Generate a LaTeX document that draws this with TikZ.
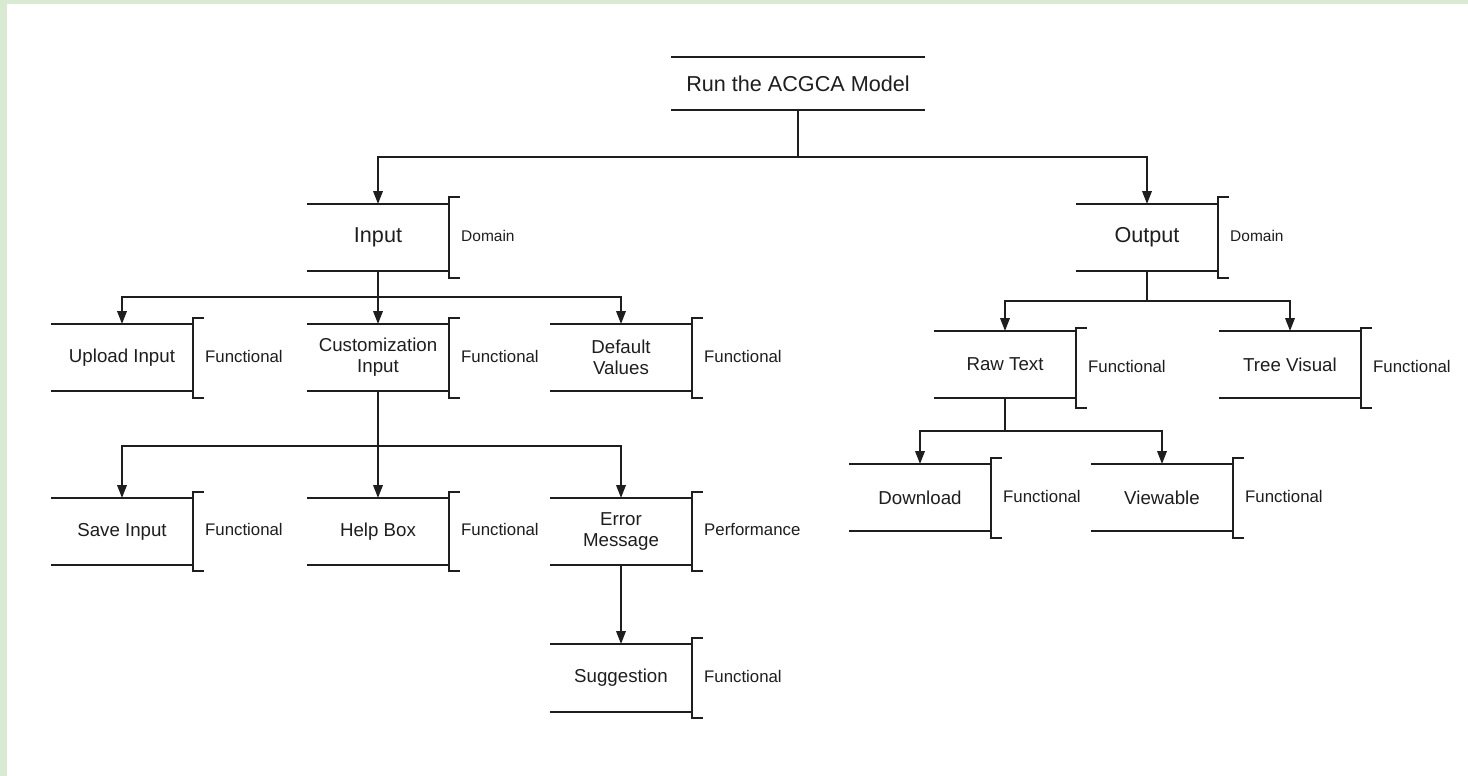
\documentclass[tikz,border=0pt]{standalone}
\usepackage{fontspec}
\setmainfont{Liberation Sans}
\usetikzlibrary{arrows.meta}
\definecolor{bordergreen}{HTML}{D9EAD3}
\definecolor{ink}{HTML}{1E1E1E}
\newcommand{\fntA}{\fontsize{21.6}{24}\selectfont}
\newcommand{\fntB}{\fontsize{18.7}{21}\selectfont}
\newcommand{\fntL}{\fontsize{16.8}{19}\selectfont}
\newcommand{\fntD}{\fontsize{15.5}{18}\selectfont}
\tikzset{
  ln/.style={draw=ink, line width=2pt, line join=miter},
  arr/.style={ln, -{Triangle[length=13pt,width=9.5pt]}},
  boxnode/.style={inner sep=0pt, outer sep=0pt, align=center, text=ink, font=\fntB},
  lbl/.style={inner sep=0pt, anchor=west, text=ink, font=\fntL},
}
\newcommand{\tbox}[9]{%
  \node[boxnode, minimum width={#3-#2}, minimum height={#5-#4}] (#1) at ({(#2+#3)/2},{(#4+#5)/2}) {#6};
  \draw[ln] (#1.north west) -- (#1.north east) (#1.south west) -- (#1.south east);
  \draw[ln] (#3+11,#7) -- (#3,#7) -- (#3,#8) -- (#3+11,#8);
  \node[lbl] (#1-l) at (#3+12,{(#7+#8)/2-2}) {#9};
}
\begin{document}
\begin{tikzpicture}[x=1pt,y=-1pt]
\fill[bordergreen] (0,0) rectangle (1468,776);
\fill[white] (7,4) rectangle (1468,776);
\useasboundingbox (0,0) rectangle (1468,776);

% root
\node[boxnode, font=\fntA, minimum width=254, minimum height=53] (root) at (798,83.5) {Run the ACGCA Model};
\draw[ln] (root.north west) -- (root.north east) (root.south west) -- (root.south east);

\tbox{input}{307}{449}{204}{271}{\fntA Input}{197}{278}{\fntD Domain}
\tbox{output}{1076}{1218}{204}{271}{\fntA Output}{197}{278}{\fntD Domain}

\tbox{upload}{51}{193}{324}{391}{Upload Input}{318}{398}{Functional}
\tbox{custom}{307}{449}{324}{391}{Customization\\Input}{318}{398}{Functional}
\tbox{default}{550}{692}{324}{391}{Default\\Values}{318}{398}{Functional}

\tbox{save}{51}{193}{498}{565}{Save Input}{492}{571}{Functional}
\tbox{help}{307}{449}{498}{565}{Help Box}{492}{571}{Functional}
\tbox{error}{550}{692}{498}{565}{Error\\Message}{492}{571}{Performance}
\tbox{sugg}{550}{692}{644}{712}{Suggestion}{638}{718}{Functional}

\tbox{raw}{934}{1076}{331}{398}{Raw Text}{328}{408}{Functional}
\tbox{tree}{1219}{1361}{331}{398}{Tree Visual}{328}{408}{Functional}
\tbox{down}{849}{991}{464}{531}{Download}{458}{538}{Functional}
\tbox{view}{1091}{1233}{464}{531}{Viewable}{458}{538}{Functional}

% connectors
\coordinate (j0) at (798,157);
\draw[ln] (root.south) -- (j0);
\draw[arr] (j0) -| (input.north);
\draw[arr] (j0) -| (output.north);

\coordinate (j1) at (378,297);
\draw[ln] (input.south) -- (j1);
\draw[arr] (j1) -| (upload.north);
\draw[arr] (j1) -- (custom.north);
\draw[arr] (j1) -| (default.north);

\coordinate (j2) at (378,446);
\draw[ln] (custom.south) -- (j2);
\draw[arr] (j2) -| (save.north);
\draw[arr] (j2) -- (help.north);
\draw[arr] (j2) -| (error.north);

\draw[arr] (error.south) -- (sugg.north);

\coordinate (j3) at (1147,301);
\draw[ln] (output.south) -- (j3);
\draw[arr] (j3) -| (raw.north);
\draw[arr] (j3) -| (tree.north);

\coordinate (j4) at (1005,431);
\draw[ln] (raw.south) -- (j4);
\draw[arr] (j4) -| (down.north);
\draw[arr] (j4) -| (view.north);
\end{tikzpicture}
\end{document}
